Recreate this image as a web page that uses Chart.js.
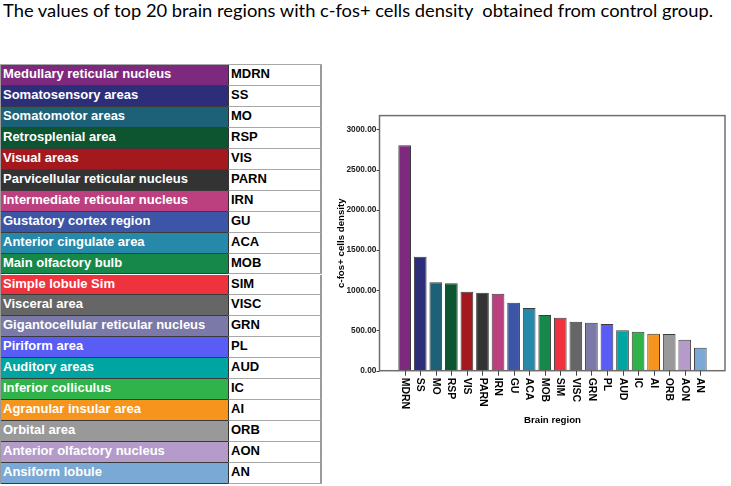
<!DOCTYPE html>
<html>
<head>
<meta charset="utf-8">
<script src="https://cdn.jsdelivr.net/npm/chart.js@4.4.1/dist/chart.umd.min.js"></script>
<style>
  html, body { margin: 0; padding: 0; background: #fff; }
  body { width: 731px; height: 486px; position: relative; overflow: hidden;
         font-family: "Liberation Sans", Arial, sans-serif; }
  #title { position: absolute; left: 3px; top: 1px; font-family: Lato, "Open Sans", sans-serif;
           font-size: 18px; line-height: 18px; white-space: pre; color: #000; transform-origin: 0 0; }
  #tbl { position: absolute; left: 0; top: 0; width: 322px; height: 486px; }
  .row { position: absolute; left: 0; width: 322px; }
  .nm { position: absolute; left: 1px; top: 0; width: 227px; height: 100%; box-sizing: border-box;
        color: #fff; font-weight: bold; font-size: 13px; padding-left: 2px; white-space: nowrap;
        border-bottom: 1px solid #3a3a3a; }
  .ab { position: absolute; left: 228px; top: 0; width: 94px; height: 100%; box-sizing: border-box;
        color: #000; font-weight: bold; font-size: 13px; padding-left: 2px; background: #fff;
        border-left: 1px solid #333; border-right: 2px solid #9a9a9a; border-bottom: 1px solid #a8a8a8; }
  #wrap { position: absolute; left: 330px; top: 0; width: 401px; height: 486px; }
</style>
</head>
<body>
<div id="title">The values of top 20 brain regions with c-fos+ cells density  obtained from control group.</div>
<div id="tbl"></div>
<div id="wrap"><canvas id="c" width="401" height="486"></canvas></div>
<script>
// ---- data ----
const categories = ['MDRN','SS','MO','RSP','VIS','PARN','IRN','GU','ACA','MOB','SIM','VISC','GRN','PL','AUD','IC','AI','ORB','AON','AN'];
const regionNames = ['Medullary reticular nucleus','Somatosensory areas','Somatomotor areas','Retrosplenial area','Visual areas',
  'Parvicellular reticular nucleus','Intermediate reticular nucleus','Gustatory cortex region','Anterior cingulate area',
  'Main olfactory bulb','Simple lobule Sim','Visceral area','Gigantocellular reticular nucleus','Piriform area',
  'Auditory areas','Inferior colliculus','Agranular insular area','Orbital area','Anterior olfactory nucleus','Ansiform lobule'];
const densityValues = [2802,1417,1099,1087,982,970,957,845,780,693,659,609,597,581,502,485,460,456,385,286];
const barColors = ['#7D2A7E','#2C2E7A','#1D6179','#0D5430','#A3191D','#333333','#BC3F7F','#3D55A6','#2689AA','#16894A',
  '#EE323E','#666666','#7A79A8','#5A5CF6','#00A4A0','#2FB34A','#F7941E','#999999','#B49BCA','#7AA9D6'];
const yTickValues = [0,500,1000,1500,2000,2500,3000];
const xTitle = 'Brain region';
const yTitle = 'c-fos+ cells density';

// ---- title fit ----
const t = document.getElementById('title');
const tw = t.getBoundingClientRect().width;
t.style.transform = 'scaleX(' + (710 / tw) + ')';

// ---- legend table ----
const tbl = document.getElementById('tbl');
const rowTop = 65, rowH = 20.95;
const topLine = document.createElement('div');
topLine.style.cssText = 'position:absolute;left:0;top:' + (rowTop - 1) + 'px;width:322px;height:1px;background:#a8a8a8;';
tbl.appendChild(topLine);
const leftLine = document.createElement('div');
leftLine.style.cssText = 'position:absolute;left:0;top:' + rowTop + 'px;width:1px;height:' + (rowH * 20) + 'px;background:#9a9a9a;';
tbl.appendChild(leftLine);
categories.forEach((abbr, i) => {
  const r = document.createElement('div');
  r.className = 'row';
  r.style.top = (rowTop + i * rowH) + 'px';
  r.style.height = rowH + 'px';
  const lh = (rowH - 2) + 'px';
  const nm = document.createElement('div');
  nm.className = 'nm';
  nm.style.background = barColors[i];
  nm.style.lineHeight = lh;
  nm.textContent = regionNames[i];
  const ab = document.createElement('div');
  ab.className = 'ab';
  ab.style.lineHeight = lh;
  ab.textContent = abbr;
  r.appendChild(nm); r.appendChild(ab);
  tbl.appendChild(r);
});

// ---- chart ----
Chart.defaults.font.family = '"Liberation Sans", Arial, sans-serif';
const PAD_L = 17.4, PAD_R = 16.9;
const framePlugin = {
  id: 'spssFrame',
  afterDatasetsDraw(chart) {
    const {ctx, chartArea: a, scales: {x, y}} = chart;
    const L = a.left - PAD_L, R = a.right + PAD_R, T = a.top, B = a.bottom;
    ctx.save();
    ctx.strokeStyle = '#6e6e6e';
    ctx.lineWidth = 1.5;
    ctx.strokeRect(L, T, R - L, B - T);
    ctx.strokeStyle = '#444';
    ctx.lineWidth = 1;
    yTickValues.forEach(v => {
      const py = Math.round(y.getPixelForValue(v)) + 0.5;
      ctx.beginPath(); ctx.moveTo(L - 3, py); ctx.lineTo(L, py); ctx.stroke();
    });
    ctx.fillStyle = '#000';
    ctx.font = 'bold 10.5px "Liberation Sans", Arial, sans-serif';
    ctx.textAlign = 'left';
    ctx.textBaseline = 'middle';
    categories.forEach((c, i) => {
      const px = Math.round(x.getPixelForTick(i)) + 0.5;
      ctx.beginPath(); ctx.moveTo(px, B); ctx.lineTo(px, B + 5); ctx.stroke();
      ctx.save();
      ctx.translate(x.getPixelForTick(i), B + 7);
      ctx.rotate(Math.PI / 2);
      ctx.fillText(c, 0, 0);
      ctx.restore();
    });
    ctx.restore();
  }
};

new Chart(document.getElementById('c'), {
  type: 'bar',
  data: {
    labels: categories,
    datasets: [{
      data: densityValues,
      backgroundColor: barColors,
      borderColor: '#3c3c3c',
      borderWidth: 1,
      barPercentage: 0.816,
      categoryPercentage: 1
    }]
  },
  options: {
    responsive: false,
    animation: false,
    devicePixelRatio: 1,
    layout: { padding: { left: 0, right: 22.9, top: 115.6, bottom: 0 } },
    plugins: { legend: { display: false }, tooltip: { enabled: false } },
    scales: {
      x: {
        grid: { display: false, drawTicks: false },
        border: { display: false },
        ticks: { display: false },
        title: { display: true, text: xTitle, color: '#000',
                 font: { size: 9.7, weight: 'bold' }, padding: { top: 0, bottom: 59.5 } },
        afterFit(s) { s.height = 115.3; }
      },
      y: {
        min: 0, max: 3172,
        grid: { display: false, drawTicks: false },
        border: { display: false },
        afterBuildTicks(s) { s.ticks = yTickValues.map(v => ({ value: v })); },
        ticks: { padding: 20.5, color: '#222', font: { size: 8.3, weight: 'bold' },
                 callback: v => Number(v).toFixed(2) },
        title: { display: true, text: yTitle, color: '#000',
                 font: { size: 9.7, weight: 'bold' }, padding: { top: 5.9, bottom: 0 } },
        afterFit(s) { s.width = 66.9; }
      }
    }
  },
  plugins: [framePlugin]
});
</script>
</body>
</html>
